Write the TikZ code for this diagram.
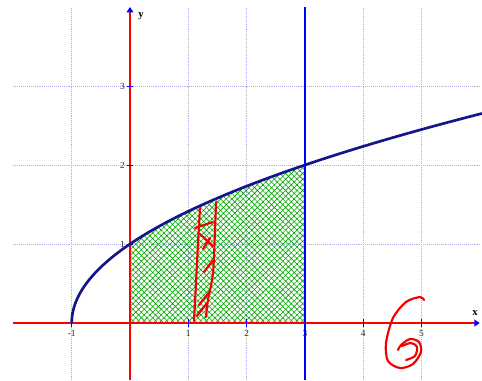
\documentclass[tikz,border=0pt]{standalone}
\usepackage{fontspec}
\setmainfont{Liberation Serif}
\usetikzlibrary{arrows.meta, patterns.meta}
\definecolor{curveblue}{RGB}{20,20,140}
\definecolor{gridblue}{RGB}{175,175,240}

\begin{document}
\begin{tikzpicture}[
    x=43.725pt, y=59.25pt,
    gridline/.style={gridblue, densely dotted, line width=0.45pt},
    axis/.style={red, line width=2pt,
                 -{Triangle[length=4pt, width=5pt, color=blue]}},
    tickmark/.style={blue, line width=0.6pt},
    ticklbl/.style={font=\fontsize{7}{8}\selectfont, text=black!85, inner sep=1pt},
    axlbl/.style={font=\fontsize{8}{9}\selectfont\bfseries, inner sep=1pt},
    curve/.style={curveblue, line width=2pt},
    bound/.style={blue, line width=2pt},
    area/.style={pattern={Hatch[angle=45, distance=3pt, line width=0.45pt]},
                 pattern color=green!65!black},
    ink/.style={red!95!black, line width=1.6pt, line cap=round, line join=round},
  ]
    \useasboundingbox (-2.230,-0.7215) rectangle (6.038,4.089);

    % === grid ===
    \foreach \i in {-1,1,2,3,4,5}
      \draw[gridline] (\i,-0.7215) -- (\i,4.0);
    \foreach \j in {1,2,3}
      \draw[gridline] (-2,\j) -- (6,\j);

    % === shaded area under the curve ===
    \fill[area] (0,0) -- plot[domain=0:3, samples=40] (\x,{sqrt(\x+1)})
      -- (3,0) -- cycle;

    % === axes ===
    \coordinate (xmin) at (-2,0);
    \coordinate (xmax) at (6.0,0);
    \coordinate (ymin) at (0,-0.7215);
    \coordinate (ymax) at (0,4.0);
    \draw[axis] (xmin) -- (xmax);
    \draw[axis] (ymin) -- (ymax);
    \node[axlbl] (xl) at (5.92,0.13) {x};
    \node[axlbl] (yl) at (0.19,3.89) {y};

    % ticks and tick labels
    \foreach \i/\n in {-1/m1, 1/p1, 2/p2, 3/p3, 4/p4, 5/p5} {
      \draw[tickmark] (\i,-0.045) -- (\i,0.045);
      \node[ticklbl] (tx\n) at (\i,-0.13) {\i};
    }
    \foreach \j in {1,2,3} {
      \draw[tickmark] (-0.06,\j) -- (0.06,\j);
      \node[ticklbl] (ty\j) at (-0.13,\j) {\j};
    }

    % === curve y = sqrt(x+1) ===
    \draw[curve] plot[domain=0:2.653, samples=120] ({\x*\x-1},\x);

    % === boundary x = 3 ===
    \coordinate (bbot) at (3,-0.7215);
    \coordinate (btop) at (3,4.0);
    \draw[bound] (bbot) -- (btop);

    % === red hand marks (pixel units) ===
    \begin{scope}[x=0.75pt, y=-0.75pt, shift={(-97.5pt,242.25pt)}]
      \draw[ink] plot[smooth] coordinates {(200,208) (198,243) (196,283) (194,321)};
      \draw[ink] plot[smooth] coordinates {(216,202) (215,230) (213,273) (208,300) (206,317)};
      \draw[ink] (195,228) -- (213,222);
      \draw[ink] (200,234) -- (213,246);
      \draw[ink] (203,249) -- (210,238);
      \draw[ink] (204,272) -- (213,260);
      \draw[ink] (199,305) -- (210,291);
      \draw[ink] (197,316) -- (207,303);
      % the 6
      \draw[ink] plot[smooth] coordinates {(424,300) (420,297) (406,302) (393,318)
        (386,343) (388,361) (400,368) (413,364) (421,352) (419,342) (410,339)
        (401,345) (398,350)};
      \draw[ink] plot[smooth] coordinates {(402,346) (411,343) (417,347)
        (415,356) (406,360)};
    \end{scope}
\end{tikzpicture}
\end{document}
